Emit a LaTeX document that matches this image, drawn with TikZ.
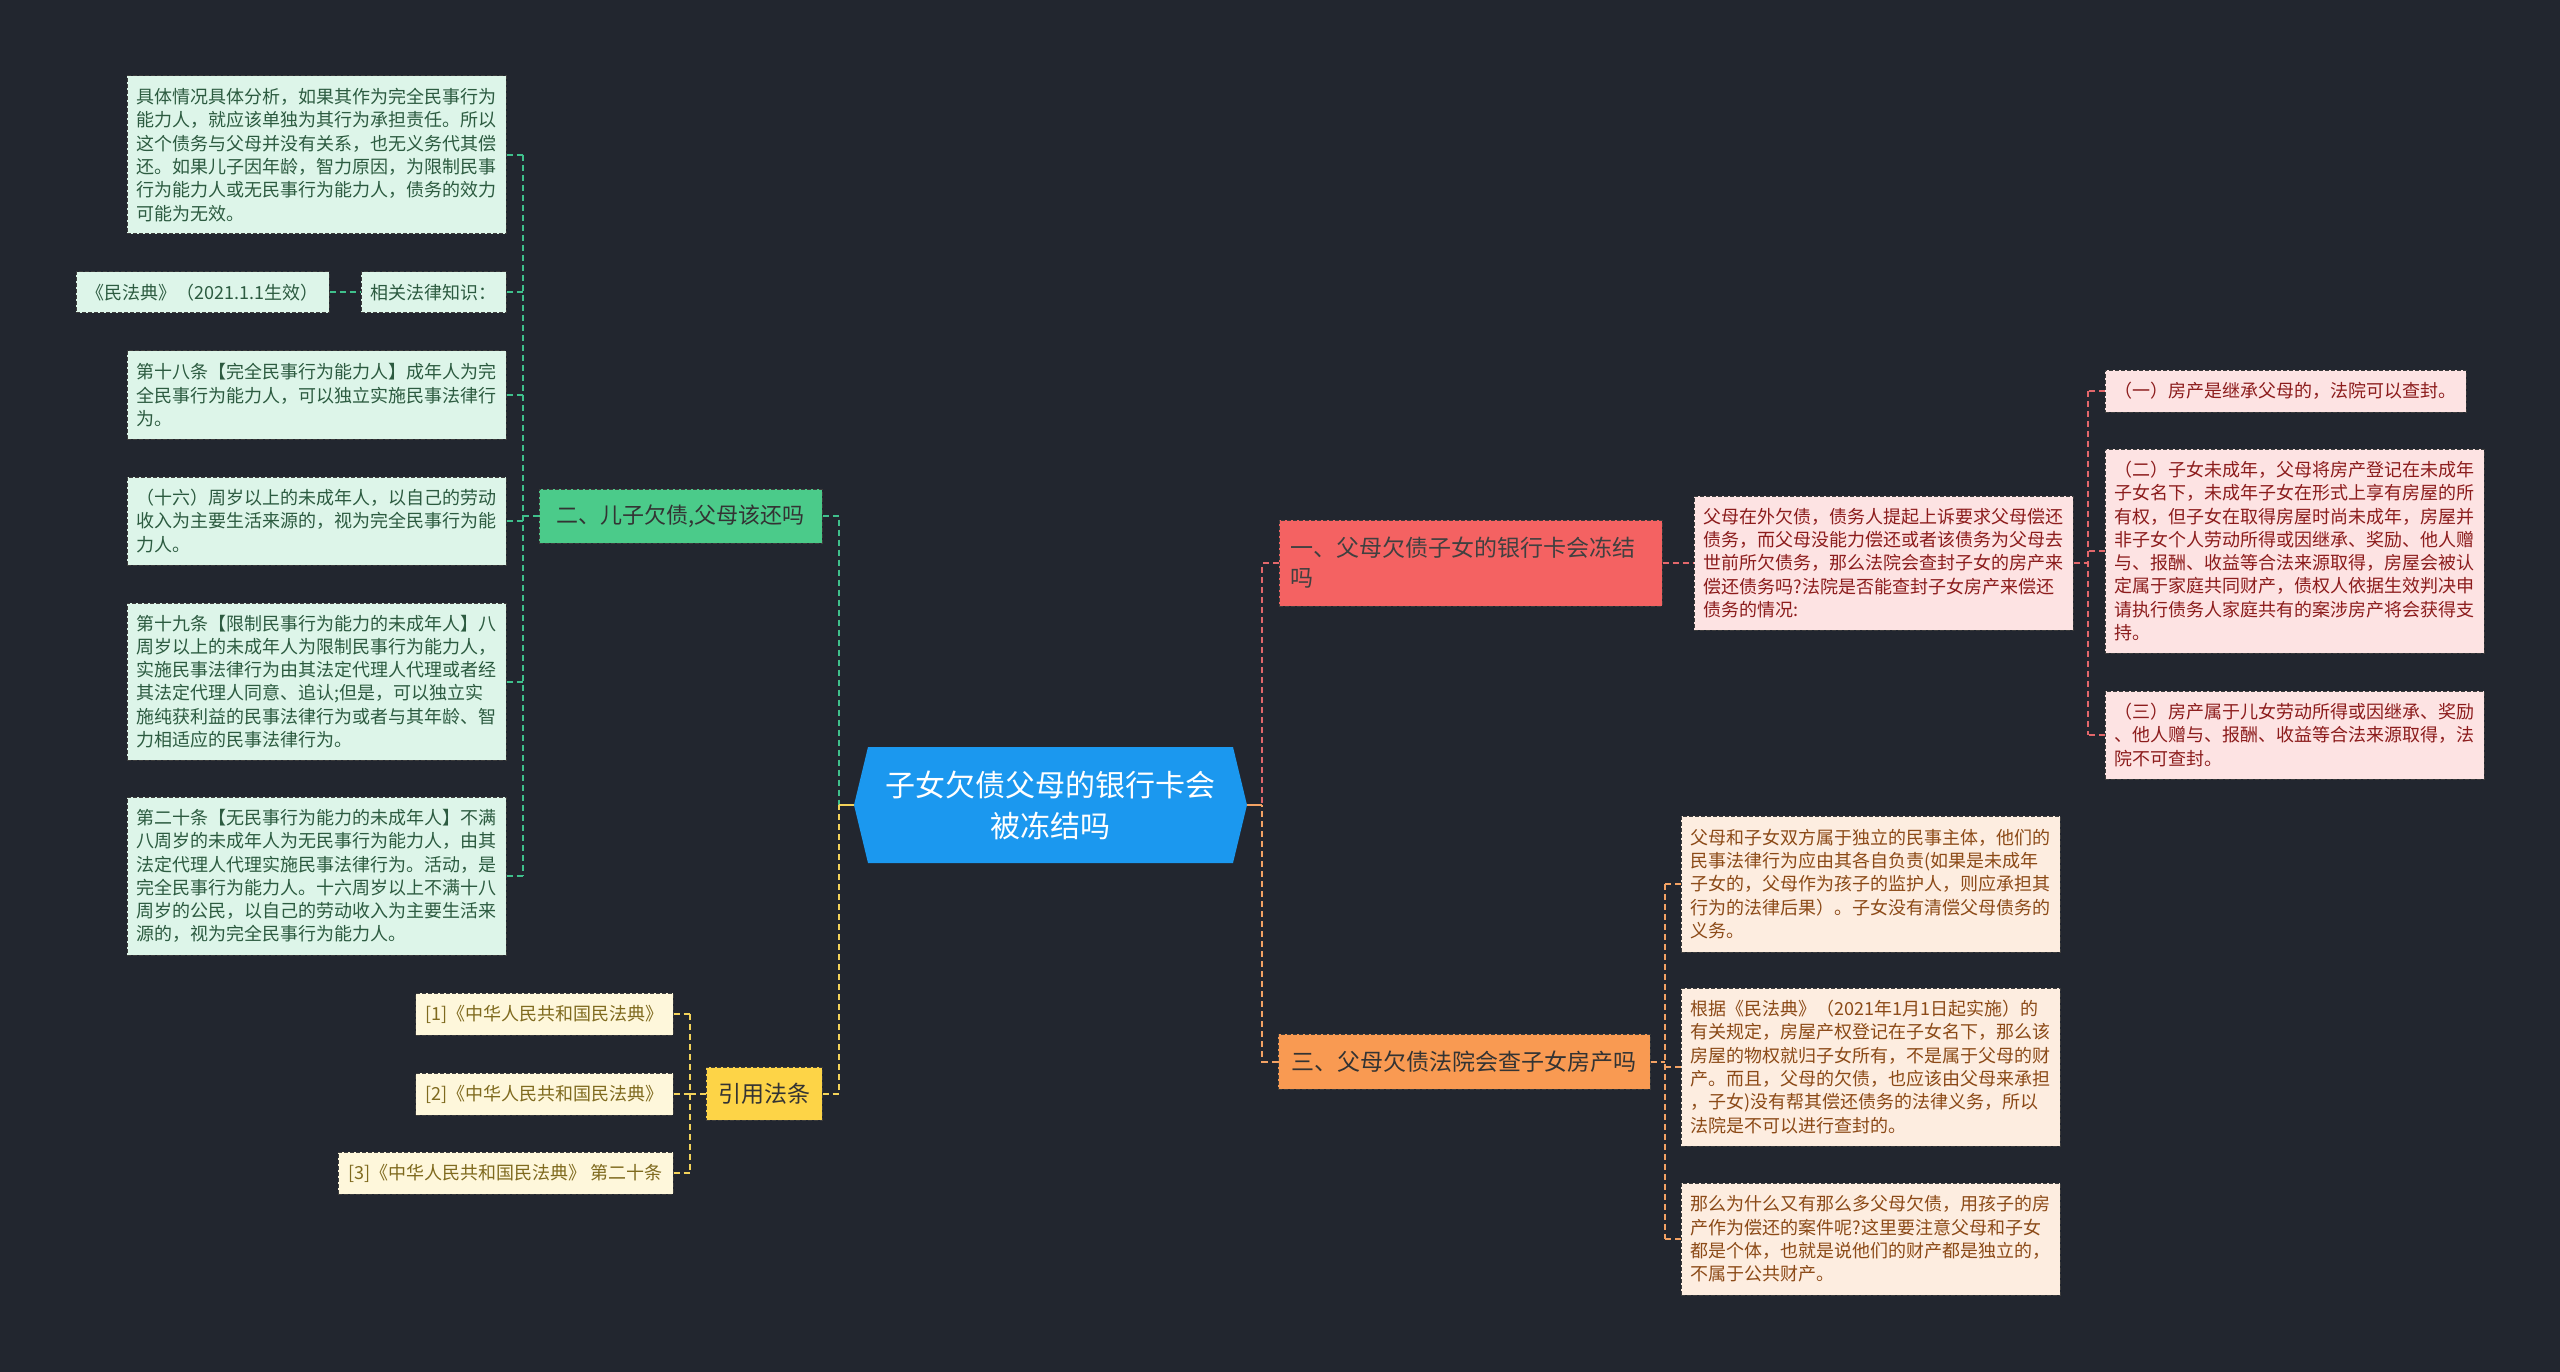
\documentclass[tikz,border=0pt]{standalone}
\usepackage{fontspec}
\setmainfont{Noto Sans CJK SC}
\definecolor{bg}{HTML}{22262F}
\definecolor{glinec}{HTML}{3FC08C}
\definecolor{gfill}{HTML}{DDF5E9}
\definecolor{gtext}{HTML}{2C5B40}
\definecolor{gnode}{HTML}{4BCB8A}
\definecolor{rlinec}{HTML}{E3676B}
\definecolor{rnode}{HTML}{F46262}
\definecolor{pfill}{HTML}{FDE3E3}
\definecolor{ptext}{HTML}{8C1C1C}
\definecolor{olinec}{HTML}{F3A264}
\definecolor{onode}{HTML}{F99A52}
\definecolor{ofill}{HTML}{FDEDE0}
\definecolor{otext}{HTML}{8C4A17}
\definecolor{ylinec}{HTML}{F3D25A}
\definecolor{ynode}{HTML}{FDD447}
\definecolor{yfill}{HTML}{FEF7DB}
\definecolor{ytext}{HTML}{7F6A1E}
\definecolor{rootfill}{HTML}{1B98EF}
\definecolor{edgec}{HTML}{3C3C3C}
\tikzset{
  conn/.style={line width=2pt, dash pattern=on 6pt off 4pt},
  gconn/.style={conn, draw=glinec},
  rconn/.style={conn, draw=rlinec},
  oconn/.style={conn, draw=olinec},
  yconn/.style={conn, draw=ylinec},
  leafbase/.style={rectangle, draw=edgec, line width=1pt, dash pattern=on 4pt off 2pt,
    inner xsep=9.5pt, inner ysep=0pt, align=left, font=\fontsize{18pt}{23.3pt}\selectfont},
  gleaf/.style={leafbase, fill=gfill, text=gtext},
  pleaf/.style={leafbase, fill=pfill, text=ptext},
  oleaf/.style={leafbase, fill=ofill, text=otext},
  yleaf/.style={leafbase, fill=yfill, text=ytext},
  lvone/.style={leafbase, inner xsep=11.5pt, font=\fontsize{23pt}{30pt}\selectfont},
}
\begin{document}
\begin{tikzpicture}[x=1pt,y=-1pt]
\fill[bg] (0,0) rectangle (2560,1372);
\useasboundingbox (0,0) rectangle (2560,1372);

% bus coordinates
\coordinate (gbus) at (523,0);
\coordinate (lbus) at (839,0);
\coordinate (ybus) at (690,0);
\coordinate (rbus) at (1262,0);
\coordinate (pbus) at (2088,0);
\coordinate (obus) at (1665,0);

% root
\fill[rootfill] (854,805) -- (868,747) -- (1233,747) -- (1247,805) -- (1233,863) -- (868,863) -- cycle;
\node[minimum width=392pt, minimum height=116pt, inner sep=0pt, align=center, text=white,
  font=\fontsize{30pt}{41pt}\selectfont] (root) at (1050.5,805) {子女欠债父母的银行卡会\\被冻结吗};

% ---------- green branch ----------
\node[gleaf, minimum width=379pt, minimum height=158pt, text width=360pt] (gA) at (316.5,155)
{具体情况具体分析，如果其作为完全民事行为\\能力人，就应该单独为其行为承担责任。所以\\这个债务与父母并没有关系，也无义务代其偿\\还。如果儿子因年龄，智力原因，为限制民事\\行为能力人或无民事行为能力人，债务的效力\\可能为无效。};
\node[gleaf, minimum width=145pt, minimum height=41pt, align=center] (gLaw) at (433.5,292.5) {相关法律知识：};
\node[gleaf, minimum width=253pt, minimum height=41pt, align=center] (gCode) at (202.5,292.5) {《民法典》（2021.1.1生效）};
\node[gleaf, minimum width=379pt, minimum height=88pt, text width=360pt] (g18) at (316.5,395)
{第十八条【完全民事行为能力人】成年人为完\\全民事行为能力人，可以独立实施民事法律行\\为。};
\node[gleaf, minimum width=379pt, minimum height=88pt, text width=360pt] (g16) at (316.5,521)
{（十六）周岁以上的未成年人，以自己的劳动\\收入为主要生活来源的，视为完全民事行为能\\力人。};
\node[gleaf, minimum width=379pt, minimum height=157pt, text width=360pt] (g19) at (316.5,681.5)
{第十九条【限制民事行为能力的未成年人】八\\周岁以上的未成年人为限制民事行为能力人，\\实施民事法律行为由其法定代理人代理或者经\\其法定代理人同意、追认;但是，可以独立实\\施纯获利益的民事法律行为或者与其年龄、智\\力相适应的民事法律行为。};
\node[gleaf, minimum width=379pt, minimum height=158pt, text width=360pt] (g20) at (316.5,876)
{第二十条【无民事行为能力的未成年人】不满\\八周岁的未成年人为无民事行为能力人，由其\\法定代理人代理实施民事法律行为。活动，是\\完全民事行为能力人。十六周岁以上不满十八\\周岁的公民，以自己的劳动收入为主要生活来\\源的，视为完全民事行为能力人。};
\node[lvone, fill=gnode, text=black!80, minimum width=283pt, minimum height=54pt,
  font=\fontsize{22pt}{28pt}\selectfont] (n2) at (680.5,516) {二、儿子欠债,父母该还吗};

\draw[gconn] (gA.east -| gbus) -- (g20.east -| gbus);
\foreach \n in {gA,gLaw,g18,g16,g19,g20} \draw[gconn] (\n.east) -- (\n.east -| gbus);
\draw[gconn] (gCode.east) -- (gLaw.west);
\draw[gconn] (n2.west) -- (n2.west -| gbus);
\draw[gconn] (n2.east) -| (lbus |- root.west);

% ---------- yellow branch ----------
\node[yleaf, minimum width=257pt, minimum height=42pt, align=center] (c1) at (544.5,1014) {[1]《中华人民共和国民法典》};
\node[yleaf, minimum width=257pt, minimum height=42pt, align=center] (c2) at (544.5,1094) {[2]《中华人民共和国民法典》};
\node[yleaf, minimum width=335pt, minimum height=42pt, align=center] (c3) at (505.5,1173) {[3]《中华人民共和国民法典》 第二十条};
\node[lvone, fill=ynode, text=black!80, minimum width=116pt, minimum height=53pt, align=center] (cite) at (764,1093.5) {引用法条};

\draw[yconn] (c1.east -| ybus) -- (c3.east -| ybus);
\foreach \n in {c1,c2,c3} \draw[yconn] (\n.east) -- (\n.east -| ybus);
\draw[yconn] (cite.west) -- (cite.west -| ybus);
\draw[yconn] (cite.east) -| (lbus |- root.west);
\draw[ylinec, line width=2pt] (lbus |- root.west) -- (root.west);

% ---------- red branch ----------
\node[lvone, fill=rnode, text=black!75, minimum width=383pt, minimum height=86pt, text width=360pt] (n1) at (1470.5,563)
{一、父母欠债子女的银行卡会冻结\\吗};
\node[pleaf, minimum width=379pt, minimum height=134pt, text width=360pt] (p0) at (1883.5,563)
{父母在外欠债，债务人提起上诉要求父母偿还\\债务，而父母没能力偿还或者该债务为父母去\\世前所欠债务，那么法院会查封子女的房产来\\偿还债务吗?法院是否能查封子女房产来偿还\\债务的情况:};
\node[pleaf, minimum width=361pt, minimum height=42pt, align=center] (p1) at (2285.5,391)
{（一）房产是继承父母的，法院可以查封。};
\node[pleaf, minimum width=379pt, minimum height=204pt, text width=360pt] (p2) at (2294.5,551)
{（二）子女未成年，父母将房产登记在未成年\\子女名下，未成年子女在形式上享有房屋的所\\有权，但子女在取得房屋时尚未成年，房屋并\\非子女个人劳动所得或因继承、奖励、他人赠\\与、报酬、收益等合法来源取得，房屋会被认\\定属于家庭共同财产，债权人依据生效判决申\\请执行债务人家庭共有的案涉房产将会获得支\\持。};
\node[pleaf, minimum width=379pt, minimum height=88pt, text width=360pt] (p3) at (2294.5,735)
{（三）房产属于儿女劳动所得或因继承、奖励\\、他人赠与、报酬、收益等合法来源取得，法\\院不可查封。};

\draw[rconn] (n1.east) -- (p0.west);
\draw[rconn] (p0.east) -- (p0.east -| pbus);
\draw[rconn] (p1.west -| pbus) -- (p3.west -| pbus);
\foreach \n in {p1,p2,p3} \draw[rconn] (\n.west) -- (\n.west -| pbus);
\draw[rconn] (n1.west) -| (rbus |- root.east);

% ---------- orange branch ----------
\node[lvone, fill=onode, text=black!80, minimum width=372pt, minimum height=55pt] (n3) at (1464,1061.5)
{三、父母欠债法院会查子女房产吗};
\node[oleaf, minimum width=379pt, minimum height=136pt, text width=360pt] (o1) at (1870.5,884)
{父母和子女双方属于独立的民事主体，他们的\\民事法律行为应由其各自负责(如果是未成年\\子女的，父母作为孩子的监护人，则应承担其\\行为的法律后果）。子女没有清偿父母债务的\\义务。};
\node[oleaf, minimum width=379pt, minimum height=158pt, text width=360pt] (o2) at (1870.5,1067)
{根据《民法典》（2021年1月1日起实施）的\\有关规定，房屋产权登记在子女名下，那么该\\房屋的物权就归子女所有，不是属于父母的财\\产。而且，父母的欠债，也应该由父母来承担\\，子女)没有帮其偿还债务的法律义务，所以\\法院是不可以进行查封的。};
\node[oleaf, minimum width=379pt, minimum height=112pt, text width=360pt] (o3) at (1870.5,1239)
{那么为什么又有那么多父母欠债，用孩子的房\\产作为偿还的案件呢?这里要注意父母和子女\\都是个体，也就是说他们的财产都是独立的，\\不属于公共财产。};

\draw[oconn] (n3.east) -- (n3.east -| obus);
\draw[oconn] (o1.west -| obus) -- (o3.west -| obus);
\foreach \n in {o1,o2,o3} \draw[oconn] (\n.west) -- (\n.west -| obus);
\draw[oconn] (n3.west) -| (rbus |- root.east);
\draw[olinec, line width=2pt] (root.east) -- (rbus |- root.east);
\end{tikzpicture}
\end{document}
